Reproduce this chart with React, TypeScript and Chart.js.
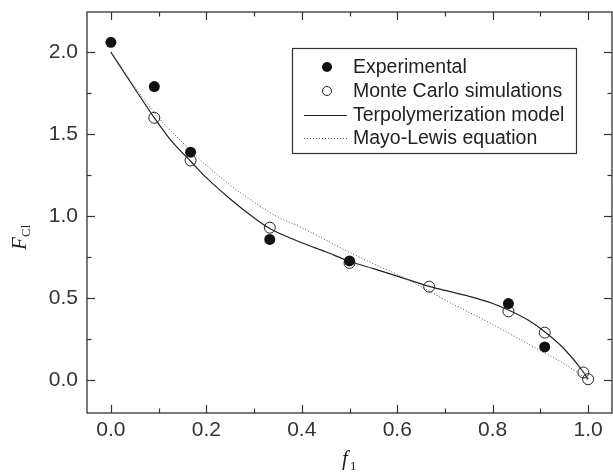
import React, { useEffect, useRef } from "react";
import { Chart, registerables } from "chart.js";

Chart.register(...registerables);

// ---- data ----
const expF1 = [0.0, 0.091, 0.167, 0.333, 0.5, 0.833, 0.909];
const expFCl = [2.06, 1.79, 1.39, 0.858, 0.727, 0.467, 0.203];

const mcF1 = [0.091, 0.167, 0.333, 0.5, 0.667, 0.833, 0.909, 0.99, 1.0];
const mcFCl = [1.6, 1.34, 0.93, 0.715, 0.57, 0.42, 0.29, 0.047, 0.006];

const modelF1 = [0, 0.045, 0.091, 0.125, 0.167, 0.2, 0.25, 0.3, 0.333, 0.4, 0.45, 0.5, 0.55, 0.6, 0.667, 0.7, 0.75, 0.8, 0.833, 0.875, 0.909, 0.95, 0.99, 1.0];
const modelFCl = [2.0, 1.8, 1.6, 1.465, 1.335, 1.235, 1.105, 0.99, 0.925, 0.838, 0.783, 0.725, 0.68, 0.635, 0.572, 0.548, 0.512, 0.468, 0.428, 0.365, 0.295, 0.19, 0.05, 0.005];

const mlF1 = [0, 0.05, 0.1, 0.15, 0.2, 0.25, 0.3, 0.35, 0.4, 0.45, 0.5, 0.55, 0.6, 0.65, 0.7, 0.75, 0.8, 0.85, 0.9, 0.95, 1.0];
const mlFCl = [2.0, 1.79, 1.6, 1.45, 1.31, 1.19, 1.085, 0.995, 0.93, 0.855, 0.78, 0.71, 0.645, 0.57, 0.49, 0.415, 0.34, 0.26, 0.18, 0.1, 0.0];

const xMajor = [0, 0.2, 0.4, 0.6, 0.8, 1.0];
const xMinor = [0.1, 0.3, 0.5, 0.7, 0.9];
const yMajor = [0, 0.5, 1.0, 1.5, 2.0];
const yMinor = [0.25, 0.75, 1.25, 1.75];

const legendLabels = [
  "Experimental",
  "Monte Carlo simulations",
  "Terpolymerization model",
  "Mayo-Lewis equation",
];

const sans = "'Liberation Sans', Arial, Helvetica, sans-serif";
const serif = "'Liberation Serif', 'Times New Roman', serif";
const ink = "#222";

const toXY = (xs: number[], ys: number[]) => xs.map((x, i) => ({ x, y: ys[i] }));

const framePlugin = {
  id: "frame",
  afterDraw(chart: any) {
    const { ctx, chartArea: a, scales } = chart;
    const xs = scales.x;
    const ys = scales.y;
    ctx.save();
    ctx.strokeStyle = "#333";
    ctx.lineWidth = 1.3;
    ctx.strokeRect(a.left, a.top, a.right - a.left, a.bottom - a.top);
    ctx.lineWidth = 1.2;
    const major = 8;
    const minor = 4.5;
    const tick = (x1: number, y1: number, x2: number, y2: number) => {
      ctx.beginPath();
      ctx.moveTo(x1, y1);
      ctx.lineTo(x2, y2);
      ctx.stroke();
    };
    const xt = (v: number, len: number) => {
      const px = Math.round(xs.getPixelForValue(v)) + 0.5;
      tick(px, a.bottom, px, a.bottom - len);
      tick(px, a.top, px, a.top + len);
    };
    const yt = (v: number, len: number) => {
      const py = Math.round(ys.getPixelForValue(v)) + 0.5;
      tick(a.left, py, a.left + len, py);
      tick(a.right, py, a.right - len, py);
    };
    xMajor.forEach((v) => xt(v, major));
    xMinor.forEach((v) => xt(v, minor));
    yMajor.forEach((v) => yt(v, major));
    yMinor.forEach((v) => yt(v, minor));

    // legend
    const bx = 292, by = 48, bw = 284, bh = 105;
    ctx.lineWidth = 1.2;
    ctx.strokeStyle = "#333";
    ctx.fillStyle = "#fff";
    ctx.fillRect(bx, by, bw, bh);
    ctx.strokeRect(bx + 0.5, by + 0.5, bw, bh);
    const rows = [67, 91, 114.5, 138];
    const mx = 327;
    ctx.font = `19.5px ${sans}`;
    ctx.textBaseline = "middle";
    ctx.textAlign = "left";
    legendLabels.forEach((lab, i) => {
      const y = rows[i];
      ctx.strokeStyle = ink;
      if (i === 0) {
        ctx.fillStyle = "#111";
        ctx.beginPath();
        ctx.arc(mx, y, 5, 0, Math.PI * 2);
        ctx.fill();
      } else if (i === 1) {
        ctx.lineWidth = 1;
        ctx.beginPath();
        ctx.arc(mx, y, 4.5, 0, Math.PI * 2);
        ctx.stroke();
      } else if (i === 2) {
        ctx.lineWidth = 1.2;
        tick(304, Math.round(y) + 0.5, 347, Math.round(y) + 0.5);
      } else {
        ctx.lineWidth = 1;
        ctx.strokeStyle = "#555";
        ctx.setLineDash([1, 2]);
        tick(304, Math.round(y) + 0.5, 347, Math.round(y) + 0.5);
        ctx.setLineDash([]);
      }
      ctx.fillStyle = ink;
      ctx.fillText(lab, 353, y + 1);
    });

    // axis titles
    ctx.fillStyle = ink;
    ctx.textBaseline = "alphabetic";
    ctx.font = `italic 21px ${serif}`;
    ctx.fillText("f", 342, 465);
    ctx.font = `13px ${serif}`;
    ctx.fillText("1", 350, 470);

    ctx.save();
    ctx.translate(26, 250);
    ctx.rotate(-Math.PI / 2);
    ctx.font = `italic 21px ${serif}`;
    ctx.fillText("F", 0, 0);
    ctx.font = `13px ${serif}`;
    ctx.fillText("Cl", 13, 4);
    ctx.restore();

    ctx.restore();
  },
};

export default function App() {
  const ref = useRef<HTMLCanvasElement | null>(null);
  useEffect(() => {
    document.body.style.margin = "0";
    const canvas = ref.current;
    if (!canvas) return;
    const chart = new Chart(canvas, {
      type: "scatter",
      data: {
        datasets: [
          {
            label: legendLabels[2],
            data: toXY(modelF1, modelFCl),
            showLine: true,
            borderColor: ink,
            borderWidth: 1.2,
            pointRadius: 0,
            cubicInterpolationMode: "monotone",
            order: 4,
          },
          {
            label: legendLabels[3],
            data: toXY(mlF1, mlFCl),
            showLine: true,
            borderColor: "#555",
            borderWidth: 1,
            borderDash: [1, 2],
            pointRadius: 0,
            cubicInterpolationMode: "monotone",
            order: 3,
          },
          {
            label: legendLabels[1],
            data: toXY(mcF1, mcFCl),
            pointRadius: 5.5,
            pointBackgroundColor: "rgba(0,0,0,0)",
            pointBorderColor: ink,
            pointBorderWidth: 1,
            order: 2,
          },
          {
            label: legendLabels[0],
            data: toXY(expF1, expFCl),
            pointRadius: 5.5,
            pointBackgroundColor: "#111",
            pointBorderColor: "#111",
            pointBorderWidth: 0,
            order: 1,
          },
        ],
      },
      options: {
        animation: false,
        responsive: false,
        devicePixelRatio: 1,
        layout: { autoPadding: false, padding: { top: 12, right: 1, left: 0, bottom: 0 } },
        plugins: {
          legend: { display: false },
          tooltip: { enabled: false },
        },
        scales: {
          x: {
            type: "linear",
            min: -0.05,
            max: 1.05,
            grid: { display: false, drawTicks: false },
            border: { display: false },
            afterBuildTicks: (s: any) => {
              s.ticks = xMajor.map((v) => ({ value: v }));
            },
            afterFit: (s: any) => {
              s.height = 59;
              s.paddingLeft = 0;
              s.paddingRight = 0;
              s.paddingTop = 0;
              s.paddingBottom = 0;
            },
            ticks: {
              padding: 5,
              color: "#333",
              font: { family: sans, size: 21 },
              callback: (v: any) => Number(v).toFixed(1),
            },
          },
          y: {
            type: "linear",
            min: -0.2,
            max: 2.245,
            grid: { display: false, drawTicks: false },
            border: { display: false },
            afterBuildTicks: (s: any) => {
              s.ticks = yMajor.map((v) => ({ value: v }));
            },
            afterFit: (s: any) => {
              s.width = 87;
              s.paddingLeft = 0;
              s.paddingRight = 0;
              s.paddingTop = 0;
              s.paddingBottom = 0;
            },
            ticks: {
              padding: 9,
              color: "#333",
              font: { family: sans, size: 21 },
              callback: (v: any) => Number(v).toFixed(1),
            },
          },
        },
      },
      plugins: [framePlugin],
    });
    return () => chart.destroy();
  }, []);
  return (
    <div style={{ position: "fixed", left: 0, top: 0, width: 613, height: 472, background: "#fff" }}>
      <canvas ref={ref} width={613} height={472} style={{ width: 613, height: 472, display: "block" }} />
    </div>
  );
}
